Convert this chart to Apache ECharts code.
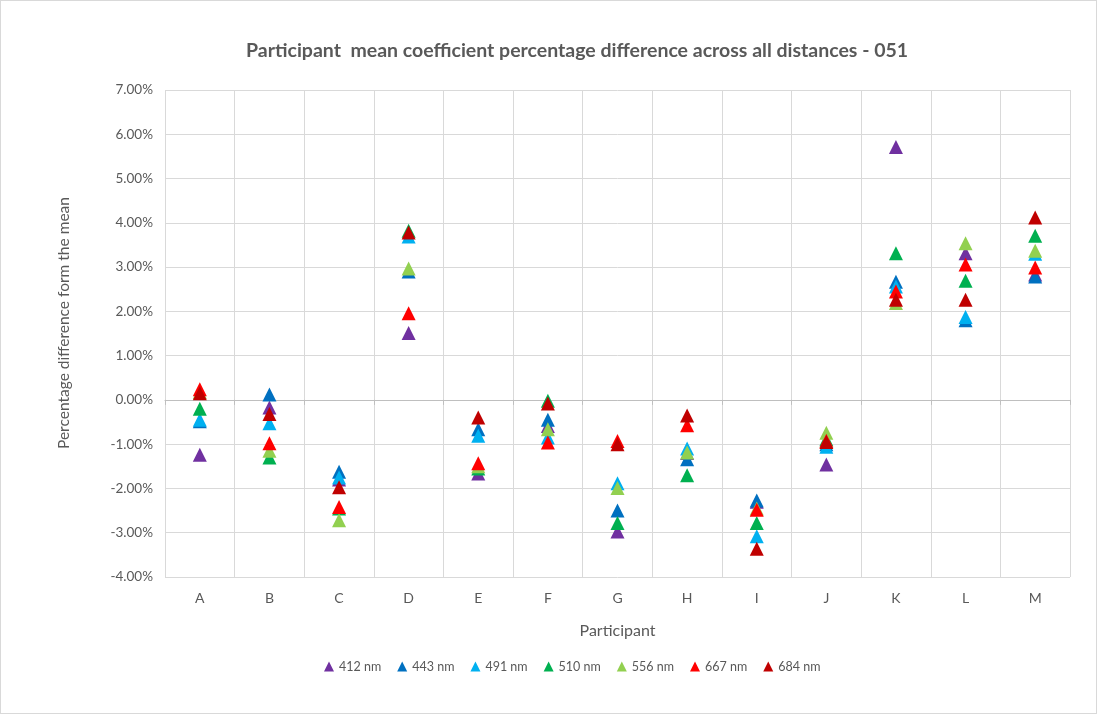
<!DOCTYPE html>
<html><head><meta charset="utf-8">
<script src="https://cdn.jsdelivr.net/npm/echarts@6/dist/echarts.min.js"></script>
<style>html,body{margin:0;padding:0;background:#fff}#c{width:1097px;height:714px;box-sizing:border-box;border:1px solid #d9d9d9}</style>
</head><body><div id="c"></div>
<script>
const categories = ['A','B','C','D','E','F','G','H','I','J','K','L','M'];
const seriesNames = ['412 nm','443 nm','491 nm','510 nm','556 nm','667 nm','684 nm'];
const colors = ['#7030a0','#0070c0','#00b0f0','#00b050','#92d050','#ff0000','#c00000'];
const v412 = [-1.24,-0.17,-1.80,1.51,-1.66,-0.59,-2.97,-1.20,-2.30,-1.46,5.71,3.31,2.83];
const v443 = [-0.48,0.12,-1.62,2.90,-0.66,-0.45,-2.50,-1.34,-2.27,-1.00,2.67,1.80,2.79];
const v491 = [-0.45,-0.53,-1.75,3.69,-0.81,-0.85,-1.88,-1.10,-3.08,-1.06,2.56,1.87,3.30];
const v510 = [-0.20,-1.30,-2.45,3.82,-1.55,-0.02,-2.78,-1.70,-2.78,-0.89,3.31,2.69,3.71];
const v556 = [0.18,-1.15,-2.72,2.97,-1.50,-0.66,-1.99,-1.19,-2.45,-0.74,2.19,3.54,3.37];
const v667 = [0.24,-0.98,-2.42,1.96,-1.43,-0.96,-0.93,-0.57,-2.48,-0.92,2.45,3.06,2.99];
const v684 = [0.15,-0.32,-1.97,3.78,-0.40,-0.08,-1.00,-0.35,-3.36,-0.95,2.26,2.26,4.12];
const yTickMin = -4, yTickMax = 7, yTickStep = 1;
const yAxisTitle = 'Percentage difference form the mean';
const allValues = [v412,v443,v491,v510,v556,v667,v684];
const chart = echarts.init(document.getElementById('c'));
const fontFam = 'Lato, "Open Sans", sans-serif';
chart.setOption({
  animation:false,
  color:colors,
  title:{text:'Participant  mean coefficient percentage difference across all distances - 051',left:240,top:35,
    textStyle:{fontFamily:fontFam,fontSize:19.5,fontWeight:'bold',color:'#595959'}},
  grid:{left:164,right:26,top:89,bottom:136},
  legend:{bottom:35,left:318,icon:'triangle',itemWidth:10,itemHeight:10,itemGap:16,
    textStyle:{fontFamily:fontFam,fontSize:12.5,color:'#595959'},data:seriesNames},
  graphic:[{type:'text',x:63,y:322,rotation:Math.PI/2,
    style:{text:yAxisTitle,fontFamily:fontFam,fontSize:15.5,fill:'#595959',align:'center',verticalAlign:'middle'}}],
  xAxis:{type:'category',data:categories,boundaryGap:true,
    name:'Participant',nameLocation:'middle',nameGap:46,
    nameTextStyle:{fontFamily:fontFam,fontSize:16,color:'#595959'},
    axisLine:{lineStyle:{color:'#bfbfbf',width:1}},
    axisTick:{show:true,length:5,lineStyle:{color:'#bfbfbf'}},
    axisLabel:{fontFamily:fontFam,fontSize:14,color:'#595959',margin:14},
    splitLine:{show:true,lineStyle:{color:'#d9d9d9'}}},
  yAxis:{type:'value',min:yTickMin,max:yTickMax,interval:yTickStep,
    axisLine:{show:false},axisTick:{show:false},
    axisLabel:{fontFamily:fontFam,fontSize:13.5,color:'#595959',margin:12,formatter:v=>v.toFixed(2)+'%'},
    splitLine:{lineStyle:{color:'#d9d9d9'}}},
  series:seriesNames.map((n,i)=>({name:n,type:'scatter',symbol:'triangle',symbolSize:14,
    itemStyle:{color:colors[i],opacity:1},data:allValues[i]}))
});
</script></body></html>
